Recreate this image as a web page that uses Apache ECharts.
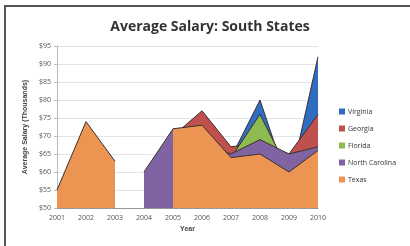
<!DOCTYPE html>
<html>
<head>
<meta charset="utf-8">
<script src="https://cdn.jsdelivr.net/npm/echarts@6/dist/echarts.min.js"></script>
<style>
  html, body { margin: 0; padding: 0; background: #fff; }
  #chart {
    position: absolute; left: 4px; top: 5px; width: 406px; height: 241px;
    border-left: 2px solid #555; border-top: 2px solid #555; box-sizing: border-box;
  }
</style>
</head>
<body>
<div id="chart"></div>
<script>
const years = ['2001', '2002', '2003', '2004', '2005', '2006', '2007', '2008', '2009', '2010']
const yTicks = [50, 55, 60, 65, 70, 75, 80, 85, 90, 95]

// overlapping (not stacked) areas, drawn back to front
const virginia = [null, null, null, null, null, null, 64, 80, 56, 92]
const georgia = [null, null, null, null, 70, 77, 67, 68, 65, 76]
const florida = [null, null, null, null, null, null, 64, 76, 60, 60]
const northCarolina = [null, null, null, 60, 72, 68, 65, 69, 65, 67]
const texas = [55, 74, 63, null, 72, 73, 64, 65, 60, 66]

const names = ['Virginia', 'Georgia', 'Florida', 'North Carolina', 'Texas']
const colors = ['#2f6cc2', '#c0504d', '#8dbb4f', '#8064a2', '#ec9552']
const seriesData = [virginia, georgia, florida, northCarolina, texas]

const chart = echarts.init(document.getElementById('chart'))

const axisText = { color: '#555', fontSize: 7, fontFamily: 'Open Sans, sans-serif' }

chart.setOption({
  animation: false,
  title: {
    text: 'Average Salary: South States',
    left: 199, top: 8, textAlign: 'center',
    textStyle: { fontSize: 14, fontWeight: 'bold', color: '#333', fontFamily: 'Open Sans, sans-serif' }
  },
  legend: {
    orient: 'vertical',
    left: 328, top: 96,
    itemWidth: 6, itemHeight: 6, itemGap: 10,
    icon: 'rect',
    textStyle: { fontSize: 7, color: '#333', fontFamily: 'Open Sans, sans-serif', padding: [0, 0, 0, -2] },
    data: names
  },
  grid: { left: 51, right: 92, top: 39, bottom: 38 },
  xAxis: {
    type: 'category',
    data: years,
    boundaryGap: false,
    name: 'Year',
    nameLocation: 'middle',
    nameGap: 18,
    nameTextStyle: { fontSize: 7, fontWeight: 'bold', color: '#444' },
    axisLine: { lineStyle: { color: '#999' } },
    axisTick: { show: false },
    axisLabel: Object.assign({ margin: 6, interval: 0 }, axisText)
  },
  yAxis: {
    type: 'value',
    min: yTicks[0], max: yTicks[yTicks.length - 1], interval: 5,
    name: 'Average Salary (Thousands)',
    nameLocation: 'middle',
    nameGap: 27,
    nameTextStyle: { fontSize: 7, fontWeight: 'bold', color: '#444' },
    axisLine: { show: true, lineStyle: { color: '#bbb' } },
    axisTick: { show: true, length: 3, lineStyle: { color: '#bbb' } },
    axisLabel: Object.assign({ margin: 6, formatter: v => '$' + v }, axisText),
    splitLine: { lineStyle: { color: '#e4e4e4' } }
  },
  series: seriesData.map((d, i) => ({
    name: names[i],
    type: 'line',
    data: d,
    symbol: 'none',
    connectNulls: false,
    lineStyle: { color: '#3a3030', width: 1 },
    itemStyle: { color: colors[i] },
    areaStyle: { color: colors[i], opacity: 1 },
    z: 2 + i
  }))
})
</script>
</body>
</html>
